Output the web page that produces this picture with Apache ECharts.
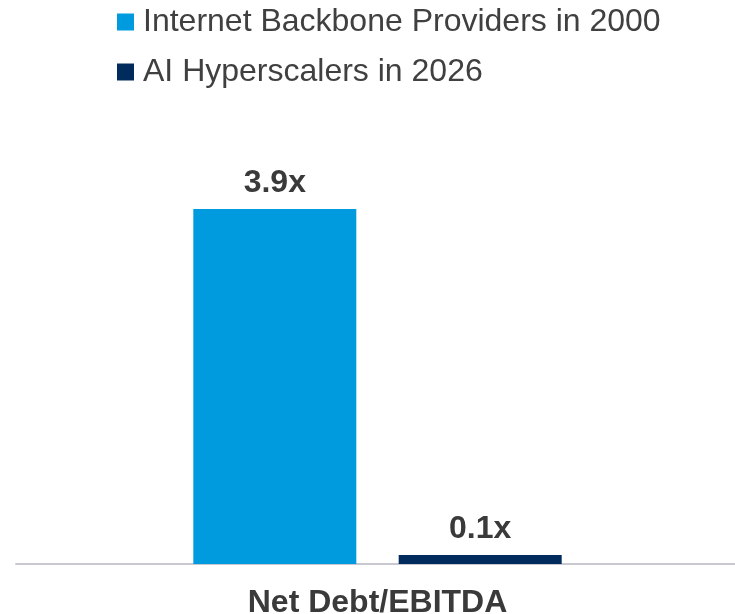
<!DOCTYPE html>
<html>
<head>
<meta charset="utf-8">
<script src="https://cdn.jsdelivr.net/npm/echarts@6/dist/echarts.min.js"></script>
<style>
  html, body { margin: 0; padding: 0; background: #ffffff; }
  #chart { width: 735px; height: 614px; }
</style>
</head>
<body>
<div id="chart"></div>
<script>
// Leverage comparison: net debt to EBITDA multiples
var categories = ['Net Debt/EBITDA'];
var seriesNames = ['Internet Backbone Providers in 2000', 'AI Hyperscalers in 2026'];
var backbone2000 = [3.9];
var hyperscalers2026 = [0.1];

var colors = ['#009ADE', '#002B5C'];
var textColor = '#3a3a3a';
var fontFamily = 'Liberation Sans, Arial, sans-serif';

var chart = echarts.init(document.getElementById('chart'), null, { renderer: 'canvas' });

function barLabel() {
  return {
    show: true,
    position: 'top',
    distance: 10,
    formatter: function (p) { return p.value.toFixed(1) + 'x'; },
    fontFamily: fontFamily,
    fontSize: 32,
    fontWeight: 'bold',
    color: textColor
  };
}

chart.setOption({
  animation: false,
  color: colors,
  legend: {
    orient: 'vertical',
    left: 117,
    top: 6,
    padding: 0,
    itemWidth: 17,
    itemHeight: 17,
    itemGap: 18,
    icon: 'rect',
    textStyle: {
      fontFamily: fontFamily,
      fontSize: 32,
      color: '#404040',
      padding: [0, 0, 0, 4]
    },
    data: seriesNames
  },
  grid: {
    left: 16,
    right: -4,
    top: 200,
    bottom: 50,
    containLabel: false,
    outerBoundsMode: 'none'
  },
  xAxis: {
    type: 'category',
    data: categories,
    axisLine: { show: true, lineStyle: { color: '#C8C8D0', width: 2 } },
    axisTick: { show: false },
    axisLabel: {
      margin: 23,
      fontFamily: fontFamily,
      fontSize: 32,
      fontWeight: 'bold',
      color: textColor
    }
  },
  yAxis: {
    type: 'value',
    min: 0,
    max: 4,
    show: false,
    splitLine: { show: false }
  },
  series: [
    {
      name: seriesNames[0],
      type: 'bar',
      data: backbone2000,
      barWidth: 163,
      barGap: '26%',
      label: barLabel()
    },
    {
      name: seriesNames[1],
      type: 'bar',
      data: hyperscalers2026,
      barWidth: 163,
      barGap: '26%',
      label: barLabel()
    }
  ]
});
</script>
</body>
</html>
